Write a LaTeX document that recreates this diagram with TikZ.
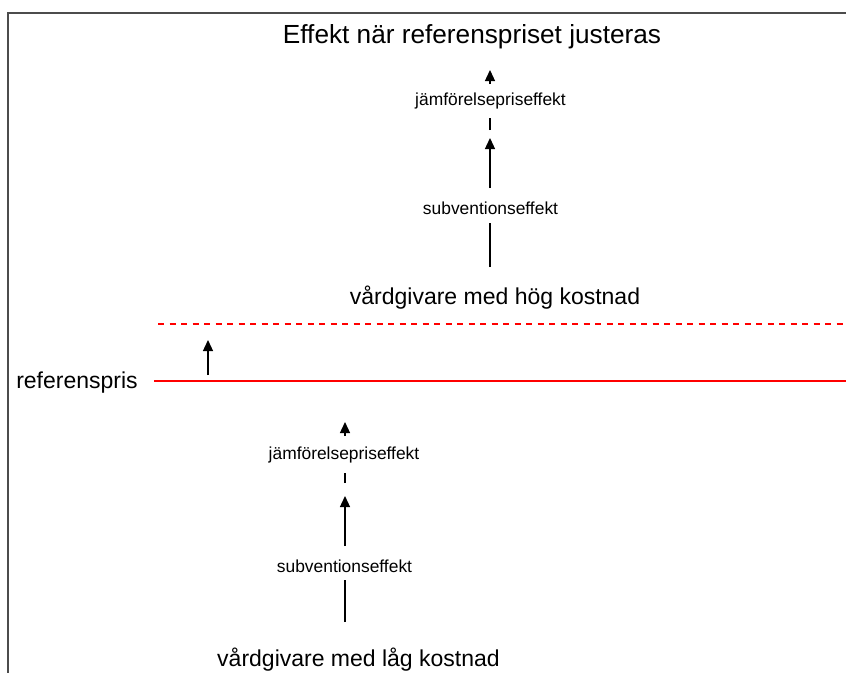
\documentclass[tikz,border=0pt]{standalone}
\usepackage{fontspec}
\setmainfont{Liberation Sans}
\usetikzlibrary{arrows.meta}

\begin{document}
\begin{tikzpicture}[x=1pt,y=-1pt,
    bigtext/.style={font=\fontsize{23}{27}\selectfont, anchor=base, inner sep=0pt},
    efftext/.style={font=\fontsize{17.4}{20}\selectfont, anchor=base, inner sep=0pt},
    stem/.style={line width=1.3pt},
    up/.style={stem, -{Triangle[length=11pt,width=10pt]}},
    prisline/.style={red, line width=1.3pt}]
  \useasboundingbox (0,0) rectangle (846,673);

  % ram
  \draw[line width=1.3pt, black!70] (846,13) -- (8,13) -- (8,673);

  \node[font=\fontsize{26.2}{30}\selectfont, anchor=base, inner sep=0pt] (titel) at (472,43) {Effekt när referenspriset justeras};

  % hög kostnad
  \node[bigtext] (hog) at (495,304) {vårdgivare med hög kostnad};
  \node[efftext] (subHog) at (490.5,214) {subventionseffekt};
  \node[efftext] (jamHog) at (490.5,105) {jämförelsepriseffekt};
  \coordinate (h1) at (490,267);
  \coordinate (h2) at (490,223);
  \coordinate (h3) at (490,188);
  \coordinate (h4) at (490,138);
  \coordinate (h5) at (490,130);
  \coordinate (h6) at (490,118);
  \coordinate (h7) at (490,84);
  \coordinate (h8) at (490,70);
  \draw[stem] (h1) -- (h2);
  \draw[up] (h3) -- (h4);
  \draw[stem] (h5) -- (h6);
  \draw[up] (h7) -- (h8);

  % referenspris
  \node[bigtext] (ref) at (77,388) {referenspris};
  \coordinate (r1) at (154,381);
  \coordinate (r2) at (846,381);
  \coordinate (n1) at (158,324);
  \coordinate (n2) at (846,324);
  \draw[prisline] (r1) -- (r2);
  \draw[prisline, dash pattern=on 6pt off 5.5pt] (n1) -- (n2);
  \coordinate (p1) at (208,375);
  \coordinate (p2) at (208,340);
  \draw[up] (p1) -- (p2);

  % låg kostnad
  \node[bigtext] (lag) at (358.5,666) {vårdgivare med låg kostnad};
  \node[efftext] (subLag) at (344.5,572) {subventionseffekt};
  \node[efftext] (jamLag) at (344,459) {jämförelsepriseffekt};
  \coordinate (l1) at (345,622);
  \coordinate (l2) at (345,580);
  \coordinate (l3) at (345,546);
  \coordinate (l4) at (345,496);
  \coordinate (l5) at (345,483);
  \coordinate (l6) at (345,473);
  \coordinate (l7) at (345,436);
  \coordinate (l8) at (345,422);
  \draw[stem] (l1) -- (l2);
  \draw[up] (l3) -- (l4);
  \draw[stem] (l5) -- (l6);
  \draw[up] (l7) -- (l8);
\end{tikzpicture}
\end{document}
